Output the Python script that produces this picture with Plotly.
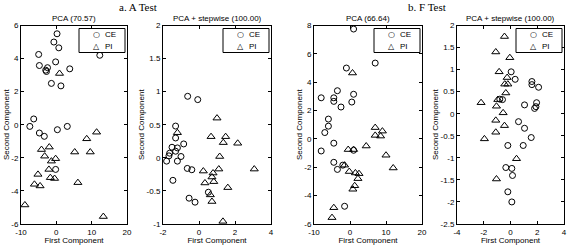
import plotly.graph_objects as go

# ---------------- data ----------------
# a. A Test -- PCA (70.57)
a1_ce_x = [0.2, -0.7, 0.7, -5.0, 12.3, -4.8, -2.5, -3.0, -2.8, -0.2, 3.8, -1.4, 1.3,
           -6.4, -7.5, -4.8, -3.4, 0.3, 3.1, -0.2]
a1_ce_y = [5.5, 5.0, 4.65, 4.25, 4.2, 3.58, 3.45, 3.3, 3.22, 3.8, 3.38, 2.5, 2.35,
           0.35, -0.1, -0.5, -0.7, -0.3, -0.1, -2.7]
a1_pi_x = [0.9, 11.4, 8.6, -4.2, -2.0, 5.2, 9.6, -3.3, -1.4, -0.2, -2.1, -5.2, -1.7,
           -0.5, -6.2, -4.6, 6.1, -8.9, 13.3]
a1_pi_y = [3.1, -0.45, -0.85, -1.5, -1.35, -1.65, -1.65, -1.9, -2.2, -2.05, -2.7, -3.0,
           -3.2, -3.25, -3.6, -3.7, -3.5, -4.85, -5.55]

# a. A Test -- PCA + stepwise (100.00)
a2_ce_x = [-0.63, -0.07, -1.3, -1.3, -0.85, -1.5, -1.2, -1.3, -1.63, -1.67, -1.0, -1.8,
           -1.2, -0.65, -0.4, -1.45, -0.55, -0.22, 0.52]
a2_ce_y = [0.93, 0.88, 0.48, 0.3, 0.21, 0.16, 0.15, 0.1, 0.07, 0.03, 0.02, -0.05,
           -0.05, -0.16, -0.18, -0.34, -0.61, -0.67, -0.52]
a2_pi_x = [1.0, 0.67, 1.48, 1.35, 2.15, 1.15, 3.07, 0.24, 1.1, 0.78, 0.72, 0.82, 0.33,
           1.6, 0.63, 0.72, 1.33, -1.2]
a2_pi_y = [0.6, 0.32, 0.32, 0.23, 0.22, 0.02, -0.17, -0.2, -0.17, -0.23, -0.29, -0.36,
           -0.38, -0.45, -0.56, -0.66, -0.96, 0.38]

# b. F Test -- PCA (66.64)
b1_ce_x = [1.0, 7.0, -1.0, -3.5, -8.0, -4.5, -4.5, 1.0, 0.5, -2.5, -6.0, -6.0, -7.0,
           -4.5, -8.0, -4.5, -2.0, -3.5, 1.0, -1.5]
b1_ce_y = [7.75, 5.35, 5.0, 3.4, 2.9, 2.9, 2.65, 3.15, 2.6, 2.25, 1.4, 0.9, 0.45,
           -0.3, -0.85, -1.65, -1.85, -2.15, -0.8, -4.75]
b1_pi_x = [0.7, 7.0, 7.0, 9.0, 8.5, 4.5, -0.5, 1.0, 10.0, 12.0, -1.5, -0.2, 1.5, 2.5,
           2.2, 1.3, 0.8, -4.5, -5.0]
b1_pi_y = [4.65, 0.8, 0.25, 0.55, 0.2, -0.5, -0.75, -0.75, -1.15, -2.05, -1.85, -2.3,
           -2.4, -2.45, -2.8, -3.3, -3.55, -4.85, -5.55]

# b. F Test -- PCA + stepwise (100.00)
b2_ce_x = [0.05, 0.35, 1.6, 1.6, 2.1, -0.6, -0.8, 1.05, 1.95, 1.8, 1.9, 0.6, 1.05,
           1.55, -0.2, 0.95, -0.35, 0.1, 0.15, -0.2, 0.1]
b2_ce_y = [0.95, 0.78, 0.73, 0.66, 0.6, 0.32, 0.33, 0.2, 0.25, 0.12, 0.16, -0.18,
           -0.33, -0.54, -0.72, -0.72, -1.22, -1.24, -1.4, -1.77, -2.0]
b2_pi_x = [-0.45, -1.1, -0.05, -0.85, -0.25, -0.43, -0.2, -0.35, -2.2, -1.05, -0.55,
           -1.1, -0.45, -1.95, -1.1, 0.45, -1.05, -0.95]
b2_pi_y = [1.75, 1.4, 1.27, 0.95, 0.82, 0.67, 0.67, 0.47, 0.25, 0.17, 0.02, -0.15,
           -0.27, -0.57, -0.42, -1.02, -1.48, 0.32]

panel_titles = ["PCA (70.57)", "PCA + stepwise (100.00)", "PCA (66.64)", "PCA + stepwise (100.00)"]
group_titles = ["a. A Test", "b. F Test"]
series_names = ["CE", "PI"]
legend_glyphs = ["\u25CB", "\u25B3"]
x_title = "First Component"
y_title = "Second Component"

x_ticks = [[-10, 0, 10, 20], [-2, 0, 2, 4], [-10, 0, 10, 20], [-4, -2, 0, 2, 4]]
x_ticklabels = [["-10", "0", "10", "20"], ["-2", "0", "2", "4"], ["-10", "0", "10", "20"],
                ["-4", "-2", "0", "2", "4"]]
y_ticks = [[-6, -4, -2, 0, 2, 4, 6], [-1, -0.5, 0, 0.5, 1, 1.5, 2],
           [-6, -4, -2, 0, 2, 4, 6, 8], [-2.5, -2, -1.5, -1, -0.5, 0, 0.5, 1, 1.5, 2]]
y_ticklabels = [["-6", "-4", "-2", "0", "2", "4", "6"],
                ["-1", "-0.5", "0", "0.5", "1", "1.5", "2"],
                ["-6", "-4", "-2", "0", "2", "4", "6", "8"],
                ["-2.5", "-2", "-1.5", "-1", "-0.5", "0", "0.5", "1", "1.5", "2"]]

panels = [
    (a1_ce_x, a1_ce_y, a1_pi_x, a1_pi_y),
    (a2_ce_x, a2_ce_y, a2_pi_x, a2_pi_y),
    (b1_ce_x, b1_ce_y, b1_pi_x, b1_pi_y),
    (b2_ce_x, b2_ce_y, b2_pi_x, b2_pi_y),
]

# ---------------- layout geometry ----------------
W, H = 568, 245
x_px = [(21, 127), (163, 271), (314, 422), (457, 564)]
y_px = (25.5, 224)  # top, bottom
ydom = [1 - y_px[1] / H, 1 - y_px[0] / H]

FONT = "Liberation Sans, Arial, sans-serif"
fig = go.Figure()

for i, (cx, cy, px, py) in enumerate(panels):
    n = i + 1
    xa = "x" if n == 1 else f"x{n}"
    ya = "y" if n == 1 else f"y{n}"
    fig.add_trace(go.Scatter(
        x=cx, y=cy, mode="markers", name=series_names[0], xaxis=xa, yaxis=ya,
        showlegend=False,
        marker=dict(symbol="circle-open", size=6, color="black", line=dict(width=1, color="black"))))
    fig.add_trace(go.Scatter(
        x=px, y=py, mode="markers", name=series_names[1], xaxis=xa, yaxis=ya,
        showlegend=False,
        marker=dict(symbol="triangle-up-open", size=7, color="black", line=dict(width=1, color="black"))))

layout = dict(
    width=W, height=H, autosize=False,
    margin=dict(l=0, r=0, t=0, b=0),
    paper_bgcolor="white", plot_bgcolor="white",
    font=dict(family=FONT, size=8, color="black"),
    showlegend=False,
    template="none",
)

axis_common = dict(
    showline=True, linecolor="black", linewidth=1, mirror="ticks",
    ticks="inside", ticklen=3, tickcolor="black", tickwidth=1,
    showgrid=False, zeroline=False,
    tickfont=dict(family=FONT, size=8, color="black"),
)

for i in range(4):
    n = i + 1
    xk = "xaxis" if n == 1 else f"xaxis{n}"
    yk = "yaxis" if n == 1 else f"yaxis{n}"
    xr = [x_ticks[i][0], x_ticks[i][-1]]
    yr = [y_ticks[i][0], y_ticks[i][-1]]
    layout[xk] = dict(
        axis_common, domain=[x_px[i][0] / W, x_px[i][1] / W], range=xr,
        tickmode="array", tickvals=x_ticks[i], ticktext=x_ticklabels[i],
        anchor="y" if n == 1 else f"y{n}",
        title=dict(text=x_title, font=dict(family=FONT, size=8, color="black"), standoff=1),
    )
    layout[yk] = dict(
        axis_common, domain=ydom, range=yr,
        tickmode="array", tickvals=y_ticks[i], ticktext=y_ticklabels[i],
        anchor="x" if n == 1 else f"x{n}",
        title=dict(text=y_title, font=dict(family=FONT, size=8, color="black"), standoff=0),
    )

annotations = []
shapes = []
for i in range(4):
    cx = (x_px[i][0] + x_px[i][1]) / 2 / W
    annotations.append(dict(
        text=panel_titles[i], x=cx, y=1 - 18 / H, xref="paper", yref="paper",
        xanchor="center", yanchor="middle", showarrow=False,
        font=dict(family=FONT, size=8, color="black")))
    # legend box (drawn manually to match the compact MATLAB legend)
    bx1 = x_px[i][1] - 2
    bx0 = bx1 - 46
    by0 = y_px[0] + 3
    by1 = by0 + 24
    shapes.append(dict(type="rect", xref="paper", yref="paper",
                       x0=bx0 / W, x1=bx1 / W, y0=1 - by1 / H, y1=1 - by0 / H,
                       line=dict(color="black", width=1), fillcolor="white", layer="above"))
    for r in range(2):
        ry = by0 + 6.5 + 11.5 * r
        annotations.append(dict(
            text=legend_glyphs[r], x=(bx0 + 17) / W, y=1 - ry / H, xref="paper", yref="paper",
            xanchor="center", yanchor="middle", showarrow=False,
            font=dict(family="DejaVu Sans", size=8, color="black")))
        annotations.append(dict(
            text=series_names[r], x=(bx0 + 24) / W, y=1 - ry / H, xref="paper", yref="paper",
            xanchor="left", yanchor="middle", showarrow=False,
            font=dict(family=FONT, size=8, color="black")))
for txt, cxp in zip(group_titles, [138, 427]):
    annotations.append(dict(
        text=txt, x=cxp / W, y=1 - 7 / H, xref="paper", yref="paper",
        xanchor="center", yanchor="middle", showarrow=False,
        font=dict(family="Liberation Serif, Times New Roman, serif", size=11, color="black")))
layout["annotations"] = annotations
layout["shapes"] = shapes

fig.update_layout(**layout)
fig.write_html("out.html", config={"displayModeBar": False},
               post_script="document.body.style.margin='0';document.body.style.overflow='hidden';")
